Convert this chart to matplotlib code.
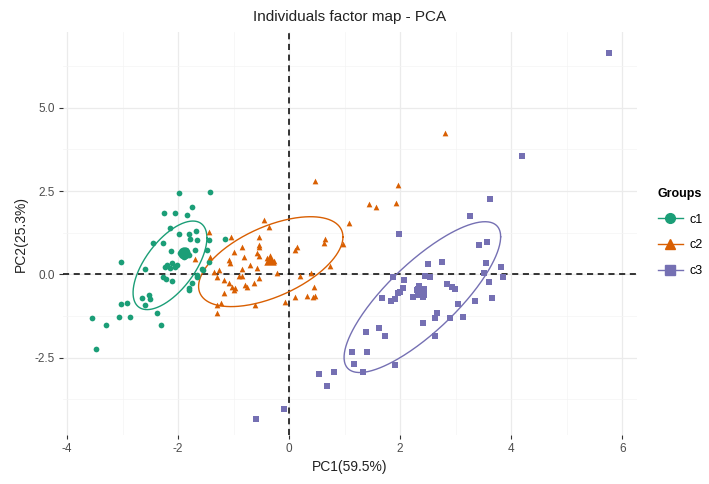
import numpy as np
import matplotlib.pyplot as plt
from matplotlib.lines import Line2D

plt.rcParams['font.family'] = ['Liberation Sans', 'DejaVu Sans']
plt.rcParams['axes.unicode_minus'] = False

# PCA coordinates, per group
c1_x = [-1.98, -1.43, -1.75, -2.25, -2.05, -1.83, -2.15, -1.98, -1.81, -1.67,
        -1.78, -1.66, -2.45, -2.27, -2.13, -1.93, -1.85, -1.81, -1.90, -1.96,
        -1.69, -1.48, -1.45, -3.03, -2.20, -2.11, -2.05, -2.14, -2.02, -2.23,
        -2.59, -2.27, -2.21, -2.11, -1.66, -1.57, -1.75, -1.80, -2.53, -2.50,
        -2.65, -2.59, -2.92, -3.03, -2.37, -2.87, -3.07, -2.31, -3.55, -3.30,
        -3.47, -1.15, -1.45, -1.55, -1.66, -1.81]
c1_y = [2.45, 2.48, 2.03, 1.85, 1.85, 1.78, 1.38, 1.20, 1.20, 1.31,
        1.05, 1.03, 0.95, 0.95, 0.71, 0.68, 0.73, 0.58, 0.53, 0.63,
        0.73, 0.73, 0.38, 0.37, 0.28, 0.33, 0.21, 0.18, 0.28, 0.21,
        0.15, -0.09, -0.15, -0.19, -0.02, 0.15, -0.27, -0.47, -0.62, -0.75,
        -0.72, -0.92, -0.85, -0.89, -1.15, -1.27, -1.27, -1.52, -1.30, -1.52,
        -2.23, 1.05, 1.03, 0.13, -0.07, -0.42]

c2_x = [2.81, 0.46, 1.97, 1.92, 1.44, 1.56, 1.08, -0.45, -0.37, -1.04,
        -0.55, 0.65, 0.63, 0.97, 0.14, 0.10, -0.85, -0.54, -1.00, -0.82,
        -0.55, -0.40, -0.28, -1.09, -1.06, -0.70, -0.85, -0.58, -0.22, -1.27,
        -1.36, -0.91, -0.85, -0.55, 0.74, 0.20, 0.40, 0.44, -1.18, -1.09,
        -1.03, -0.97, -1.00, -0.79, -0.76, -0.63, -1.18, 0.11, 0.32, 0.43,
        0.47, -0.07, -1.23, -1.30, -0.61, -1.45, -1.42, -1.69, -1.30, -1.30,
        -0.55, -0.58]
c2_y = [4.23, 2.80, 2.68, 2.15, 2.11, 2.01, 1.55, 1.63, 1.41, 1.13,
        1.13, 1.05, 0.93, 0.91, 0.81, 0.73, 0.81, 0.83, 0.68, 0.53,
        0.55, 0.48, 0.41, 0.43, 0.33, 0.28, 0.15, 0.18, 0.03, 0.13,
        0.08, -0.05, -0.05, -0.12, 0.25, -0.05, 0.03, -0.39, -0.17, -0.27,
        -0.37, -0.42, -0.47, -0.32, -0.37, -0.27, -0.55, -0.69, -0.65, -0.69,
        -0.65, -0.82, -0.87, -1.15, -0.92, 1.28, 0.53, 0.45, -0.07, -0.92,
        0.88, 0.63]

c3_x = [3.62, 3.26, 1.98, 3.42, 3.57, 2.76, 2.51, 3.54, 3.81, 3.85,
        3.51, 3.60, 3.66, 1.88, 2.07, 2.45, 2.54, 2.85, 2.94, 2.99,
        2.34, 2.30, 2.39, 2.24, 2.42, 2.06, 2.00, 1.97, 1.68, 1.91,
        1.83, 3.35, 3.04, 2.66, 2.63, 2.90, 3.13, 2.42, 1.62, 1.38,
        1.73, 2.63, 1.13, 1.41, 1.16, 1.91, 1.34, 0.54, 0.80, 0.68,
        -0.09, -0.59, 4.19, 5.76]
c3_y = [2.25, 1.76, 1.20, 0.88, 0.98, 0.38, 0.31, 0.35, 0.23, -0.07,
        0.03, -0.22, -0.72, -0.09, -0.17, -0.05, -0.07, -0.29, -0.37, -0.45,
        -0.35, -0.47, -0.57, -0.67, -0.69, -0.42, -0.52, -0.57, -0.72, -0.75,
        -0.79, -0.80, -0.90, -1.17, -1.30, -1.30, -1.29, -1.47, -1.60, -1.74,
        -1.85, -1.85, -2.32, -2.32, -2.69, -2.72, -2.92, -2.99, -2.94, -3.35,
        -4.04, -4.35, 3.55, 6.65]

# group centres (drawn bigger)
centre_x = [-1.90, -0.34, 2.37]
centre_y = [0.65, 0.45, -0.53]

# concentration ellipses: centre, half extents along x / y, correlation
ell_cx = [-2.145, -0.33, 2.40]
ell_cy = [0.27, 0.38, -0.685]
ell_sx = [0.665, 1.30, 1.41]
ell_sy = [1.33, 1.35, 2.265]
ell_rho = [0.62, 0.55, 0.80]

groups = ["c1", "c2", "c3"]
colors = ["#1B9E77", "#D95F02", "#7570B3"]
markers = ["o", "^", "s"]

fig = plt.figure(figsize=(7.09, 4.84), dpi=100)
ax = fig.add_axes([0.089, 0.101, 0.809, 0.833])

t = np.linspace(0, 2 * np.pi, 300)
data = [(c1_x, c1_y), (c2_x, c2_y), (c3_x, c3_y)]
for i, (gx, gy) in enumerate(data):
    ax.scatter(gx, gy, s=17, marker=markers[i], color=colors[i], linewidths=0, zorder=3)
    ax.scatter(centre_x[i], centre_y[i], s=80, marker=markers[i], color=colors[i],
               linewidths=0, zorder=4)
    d = np.arccos(ell_rho[i])
    ex = ell_cx[i] + ell_sx[i] * np.cos(t)
    ey = ell_cy[i] + ell_sy[i] * np.cos(t - d)
    ax.plot(ex, ey, color=colors[i], lw=1.0, zorder=2)

ax.axhline(0, color="black", ls=(0, (4, 3)), lw=1.1, zorder=1)
ax.axvline(0, color="black", ls=(0, (4, 3)), lw=1.1, zorder=1)

ax.set_xlim(-4.07, 6.26)
ax.set_ylim(-4.83, 7.28)
ax.set_xticks([-4, -2, 0, 2, 4, 6])
ax.set_yticks([-2.5, 0.0, 2.5, 5.0])
ax.set_yticklabels(["-2.5", "0.0", "2.5", "5.0"])
ax.set_xticks([-3, -1, 1, 3, 5], minor=True)
ax.set_yticks([-3.75, -1.25, 1.25, 3.75, 6.25], minor=True)
ax.grid(True, which="major", color="#EBEBEB", lw=0.9, zorder=0)
ax.grid(True, which="minor", color="#F4F4F4", lw=0.5, zorder=0)
ax.set_axisbelow(True)
for s in ax.spines.values():
    s.set_visible(False)
ax.tick_params(which="major", length=3, color="#333333", labelsize=8.5, labelcolor="#4D4D4D", pad=3)
ax.tick_params(which="minor", length=0)

ax.set_title("Individuals factor map - PCA", fontsize=11, color="#222222", pad=8)
ax.set_xlabel("PC1(59.5%)", fontsize=10, color="#222222", labelpad=3)
ax.set_ylabel("PC2(25.3%)", fontsize=10, color="#222222", labelpad=5)

handles = [Line2D([0], [0], color=colors[i], marker=markers[i], markersize=7, lw=1.0)
           for i in range(3)]
leg = fig.legend(handles, groups, title="Groups", loc="upper left",
                 bbox_to_anchor=(0.912, 0.635), frameon=False, fontsize=9,
                 handlelength=2.0, handletextpad=0.5, labelspacing=1.1)
leg.get_title().set_fontweight("bold")
leg.get_title().set_fontsize(9)
leg._legend_box.align = "left"

fig.savefig("out.png", dpi=100)
